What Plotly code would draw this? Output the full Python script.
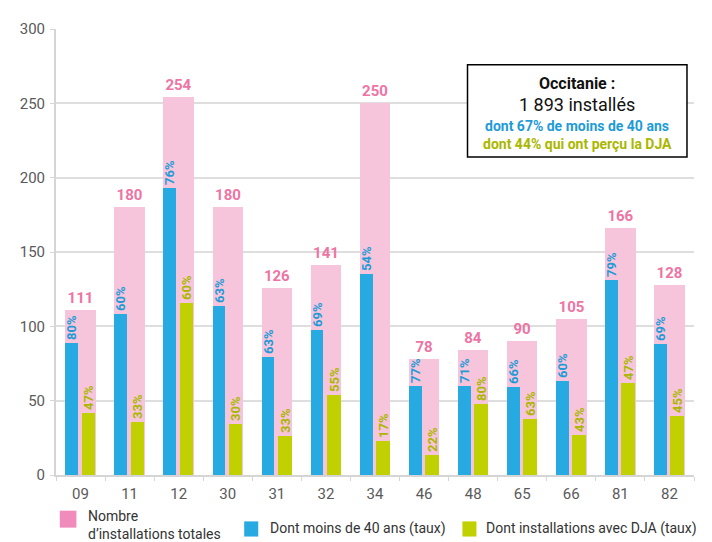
import plotly.graph_objects as go

departements = ["09", "11", "12", "30", "31", "32", "34", "46", "48", "65", "66", "81", "82"]
totales = [111, 180, 254, 180, 126, 141, 250, 78, 84, 90, 105, 166, 128]
taux_moins_40 = [80, 60, 76, 63, 63, 69, 54, 77, 71, 66, 60, 79, 69]
taux_dja = [47, 33, 60, 30, 33, 55, 17, 22, 80, 63, 43, 47, 45]

# hauteurs des barres : total x taux (<40 ans), puis x taux DJA
moins_40 = [t * p / 100 for t, p in zip(totales, taux_moins_40)]
dja = [m * p / 100 for m, p in zip(moins_40, taux_dja)]

PINK_BAR = "#f7c5db"
PINK_TXT = "#ee74a4"
PINK_LEG = "#f08bbb"
BLUE = "#27a9e1"
BLUE_TXT = "#1e9bd7"
GREEN = "#c1d000"
GREEN_TXT = "#aab700"
FONT = "Roboto"

fig = go.Figure()

fig.add_trace(go.Bar(
    x=departements, y=totales, width=0.62, offset=-0.31,
    marker=dict(color=PINK_BAR, line=dict(width=0)),
    text=[str(v) for v in totales], textposition="outside",
    textfont=dict(family=FONT, size=15, color=PINK_TXT, weight="bold"),
    constraintext="none", cliponaxis=False, showlegend=False,
))
fig.add_trace(go.Bar(
    x=departements, y=moins_40, width=0.26, offset=-0.31,
    marker=dict(color=BLUE, line=dict(width=0)),
    text=[f"{v}%" for v in taux_moins_40], textposition="outside", textangle=-90,
    textfont=dict(family=FONT, size=13, color=BLUE_TXT, weight="bold"),
    constraintext="none", cliponaxis=False, showlegend=False,
))
fig.add_trace(go.Bar(
    x=departements, y=dja, width=0.28, offset=0.02,
    marker=dict(color=GREEN, line=dict(width=0)),
    text=[f"{v}%" for v in taux_dja], textposition="outside", textangle=-90,
    textfont=dict(family=FONT, size=13, color=GREEN_TXT, weight="bold"),
    constraintext="none", cliponaxis=False, showlegend=False,
))

# encadré Occitanie
fig.add_shape(type="rect", xref="paper", yref="paper", x0=0.645, x1=0.989, y0=0.713, y1=0.92,
              line=dict(color="black", width=1.5), fillcolor="white", layer="above")
box_lines = [
    ("<b>Occitanie :</b>", 0.878, 16, "#111111"),
    ("1 893 installés", 0.83, 18, "#111111"),
    ("<b>dont 67% de moins de 40 ans</b>", 0.782, 14, BLUE_TXT),
    ("<b>dont 44% qui ont perçu la DJA</b>", 0.742, 14, GREEN_TXT),
]
for txt, yy, sz, col in box_lines:
    fig.add_annotation(text=txt, xref="paper", yref="paper", x=0.817, y=yy,
                       showarrow=False, xanchor="center", yanchor="middle",
                       font=dict(family=FONT, size=sz, color=col))

# légende manuelle
legend = [
    ("Nombre<br>d’installations totales", PINK_LEG, 0.006, 0.032, -0.08, -0.118, 0.047, -0.113),
    ("Dont moins de 40 ans (taux)", BLUE, 0.295, 0.317, -0.104, -0.138, 0.332, -0.121),
    ("Dont installations avec DJA (taux)", GREEN, 0.637, 0.659, -0.104, -0.138, 0.671, -0.121),
]
for txt, col, x0, x1, y0, y1, tx, ty in legend:
    fig.add_shape(type="rect", xref="paper", yref="paper", x0=x0, x1=x1, y0=y0, y1=y1,
                  line=dict(width=0), fillcolor=col)
    fig.add_annotation(text=txt, xref="paper", yref="paper", x=tx, y=ty,
                       showarrow=False, xanchor="left", yanchor="middle", align="left",
                       font=dict(family=FONT, size=14, color="#333333"))

# la page ajoute 8 px de marge autour du graphique
fig.update_layout(
    width=704, height=534,
    margin=dict(l=36, r=18, t=17, b=67),
    paper_bgcolor="white", plot_bgcolor="white",
    barmode="overlay", bargap=0,
    font=dict(family=FONT, size=15, color="#5a5a5a"),
)
fig.update_xaxes(
    type="category", range=[-0.5, 12.5],
    showline=True, linecolor="#d5d5d5", linewidth=1.5,
    ticks="outside", tickson="boundaries", ticklen=4, tickcolor="#d5d5d5",
    ticklabelstandoff=4,
    showgrid=False, tickfont=dict(size=15, color="#5a5a5a"),
)
fig.update_yaxes(
    range=[0, 300], tickvals=[0, 50, 100, 150, 200, 250, 300],
    showline=True, linecolor="#d5d5d5", linewidth=2,
    ticks="outside", ticklen=4, tickcolor="#d5d5d5", ticklabelstandoff=2,
    showgrid=True, gridcolor="#dedede", gridwidth=1.5, zeroline=False,
    tickfont=dict(size=15, color="#5a5a5a"),
)

fig.write_html("out.html")
